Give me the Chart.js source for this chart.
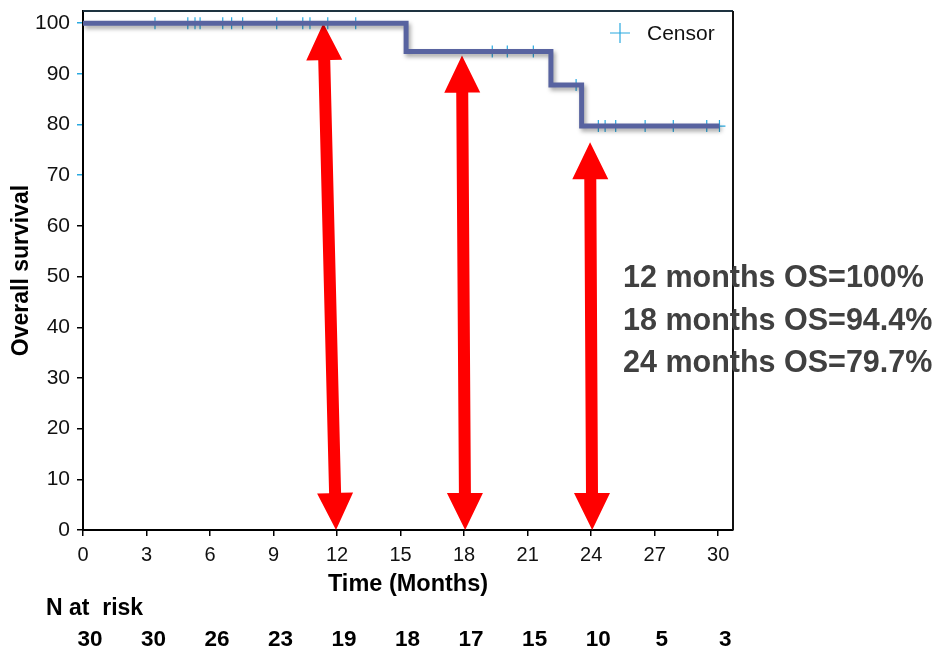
<!DOCTYPE html>
<html>
<head>
<meta charset="utf-8">
<script src="https://cdn.jsdelivr.net/npm/chart.js@4.4.1/dist/chart.umd.min.js"></script>
<style>
  html, body { margin: 0; padding: 0; background: #ffffff; }
  #wrap { width: 938px; height: 649px; position: relative; }
</style>
</head>
<body>
<div id="wrap"><canvas id="km"></canvas></div>
<script>
// Kaplan-Meier overall survival: step times (months) and survival (%)
const stepMonths = [0, 15.26, 22.1, 23.55, 30.06];
const stepSurvival = [100, 94.4, 87.8, 79.7, 79.7];

// Censored observations
const censorMonths = [3.40, 4.95, 5.29, 5.53, 6.60, 7.02, 7.54, 9.15, 10.38, 10.72, 11.56, 12.88,
                      19.33, 20.04, 21.27, 23.29,
                      24.34, 24.66, 25.16, 26.55, 27.88, 29.46, 30.06];
const censorSurvival = [100, 100, 100, 100, 100, 100, 100, 100, 100, 100, 100, 100,
                        94.4, 94.4, 94.4, 87.8,
                        79.7, 79.7, 79.7, 79.7, 79.7, 79.7, 79.7];

// Axis ticks
const xTicks = [0, 3, 6, 9, 12, 15, 18, 21, 24, 27, 30];
const yTicks = [0, 10, 20, 30, 40, 50, 60, 70, 80, 90, 100];

// Number at risk under each x tick
const atRisk = [30, 30, 26, 23, 19, 18, 17, 15, 10, 5, 3];

// Landmark estimates and their double arrows
const landmarkLabels = ['12 months OS=100%', '18 months OS=94.4%', '24 months OS=79.7%'];
const arrowTopMonths = [11.35, 17.9, 23.95];
const arrowTopValues = [100, 93.6, 76.5];
const arrowBottomMonths = [11.95, 18.05, 24.05];
const arrowBottomValues = [0, 0, 0];

const FONT = '"Liberation Sans", Arial, sans-serif';
const LINE_COLOR = '#5863a0';
const CENSOR_COLOR = '#2aa9e0';

const kmData = stepMonths.map((m, i) => ({ x: m, y: stepSurvival[i] }));
const censorData = censorMonths.map((m, i) => ({ x: m, y: censorSurvival[i] }));
const censorStyles = censorMonths.map((m, i) => i === censorMonths.length - 1 ? 'cross' : 'line');

function drawDoubleArrow(ctx, x1, y1, x2, y2) {
  const H = 37, W = 18, S = 6;
  const dx = x2 - x1, dy = y2 - y1;
  const len = Math.hypot(dx, dy);
  const ux = dx / len, uy = dy / len;
  const nx = -uy, ny = ux;
  const p = (bx, by, a, b) => [bx + ux * a + nx * b, by + uy * a + ny * b];
  const pts = [
    [x1, y1],
    p(x1, y1, H, W), p(x1, y1, H, S),
    p(x2, y2, -H, S), p(x2, y2, -H, W),
    [x2, y2],
    p(x2, y2, -H, -W), p(x2, y2, -H, -S),
    p(x1, y1, H, -S), p(x1, y1, H, -W)
  ];
  ctx.beginPath();
  ctx.moveTo(pts[0][0], pts[0][1]);
  for (let i = 1; i < pts.length; i++) ctx.lineTo(pts[i][0], pts[i][1]);
  ctx.closePath();
  ctx.fillStyle = '#ff0000';
  ctx.fill();
}

const decorations = {
  id: 'decorations',
  beforeDatasetsDraw(chart) {
    const { ctx, chartArea: a, scales: { x, y } } = chart;
    ctx.save();
    // frame on top and right
    ctx.lineWidth = 2;
    ctx.strokeStyle = '#1e3340';
    ctx.beginPath();
    ctx.moveTo(a.left, a.top);
    ctx.lineTo(a.right, a.top);
    ctx.stroke();
    ctx.strokeStyle = '#111111';
    ctx.beginPath();
    ctx.moveTo(a.right, a.top);
    ctx.lineTo(a.right, a.bottom);
    ctx.stroke();
    // landmark arrows
    for (let i = 0; i < arrowTopMonths.length; i++) {
      drawDoubleArrow(ctx,
        x.getPixelForValue(arrowTopMonths[i]), y.getPixelForValue(arrowTopValues[i]),
        x.getPixelForValue(arrowBottomMonths[i]), y.getPixelForValue(arrowBottomValues[i]));
    }
    ctx.restore();
  },
  beforeDatasetDraw(chart, args) {
    if (args.index === 1) {
      const ctx = chart.ctx;
      ctx.save();
      ctx.shadowColor = 'rgba(0,0,0,0.35)';
      ctx.shadowBlur = 4;
      ctx.shadowOffsetX = 2;
      ctx.shadowOffsetY = 3;
    }
  },
  afterDatasetDraw(chart, args) {
    if (args.index === 1) chart.ctx.restore();
  },
  afterDraw(chart) {
    const { ctx, chartArea: a, scales: { x } } = chart;
    ctx.save();
    // legend
    const lx = 620, ly = 33;
    ctx.strokeStyle = CENSOR_COLOR;
    ctx.lineWidth = 1.2;
    ctx.beginPath();
    ctx.moveTo(lx - 10, ly); ctx.lineTo(lx + 10, ly);
    ctx.moveTo(lx, ly - 10); ctx.lineTo(lx, ly + 10);
    ctx.stroke();
    ctx.fillStyle = '#111111';
    ctx.font = '21px ' + FONT;
    ctx.textAlign = 'left';
    ctx.textBaseline = 'middle';
    ctx.fillText('Censor', 647, ly + 1);

    // landmark estimates
    ctx.fillStyle = '#404040';
    ctx.font = 'bold 30.5px ' + FONT;
    ctx.textBaseline = 'alphabetic';
    landmarkLabels.forEach((t, i) => ctx.fillText(t, 623, 287 + i * 42.5));

    // number at risk
    ctx.fillStyle = '#000000';
    ctx.font = 'bold 23px ' + FONT;
    ctx.textBaseline = 'middle';
    ctx.fillText('N at  risk', 46, 609);
    ctx.textAlign = 'center';
    ctx.font = 'bold 22.5px ' + FONT;
    xTicks.forEach((t, i) => ctx.fillText(String(atRisk[i]), x.getPixelForValue(t) + 7, 640));
    ctx.restore();
  }
};

new Chart(document.getElementById('km'), {
  type: 'line',
  data: {
    datasets: [
      {
        label: 'Censor',
        data: censorData,
        showLine: false,
        pointStyle: censorStyles,
        pointRotation: 90,
        radius: 6,
        borderColor: CENSOR_COLOR,
        borderWidth: 1.2,
        order: 2
      },
      {
        label: 'Overall survival',
        data: kmData,
        stepped: 'before',
        borderColor: LINE_COLOR,
        borderWidth: 5,
        pointRadius: 0,
        fill: false,
        order: 1
      }
    ]
  },
  options: {
    responsive: true,
    maintainAspectRatio: false,
    animation: false,
    layout: { padding: { top: 11, right: 205, bottom: 0, left: 0 } },
    plugins: { legend: { display: false }, tooltip: { enabled: false } },
    scales: {
      x: {
        type: 'linear',
        min: 0,
        max: 30.7,
        afterBuildTicks: s => { s.ticks = xTicks.map(v => ({ value: v })); },
        afterFit: s => { s.height = 119; s.paddingLeft = 0; s.paddingRight = 0; },
        grid: { drawOnChartArea: false, drawTicks: true, tickLength: 6, color: '#000000', lineWidth: 1.5 },
        border: { display: true, color: '#000000', width: 2 },
        ticks: { color: '#111111', font: { family: FONT, size: 20 }, padding: 7, maxRotation: 0 },
        title: {
          display: true,
          text: 'Time (Months)',
          color: '#000000',
          font: { family: FONT, size: 23.5, weight: 'bold' },
          padding: { top: 0, bottom: 50 }
        }
      },
      y: {
        min: 0,
        max: 102.4,
        afterBuildTicks: s => { s.ticks = yTicks.map(v => ({ value: v })); },
        afterFit: s => { s.width = 83; s.paddingTop = 0; s.paddingBottom = 0; },
        grid: {
          drawOnChartArea: false, drawTicks: true, tickLength: 6, lineWidth: 1.5,
          color: '#000000',
          tickColor: c => (c.tick && c.tick.value >= 70) ? CENSOR_COLOR : '#000000'
        },
        border: { display: true, color: '#000000', width: 2 },
        ticks: { color: '#111111', font: { family: FONT, size: 21 }, padding: 7 },
        title: {
          display: true,
          text: 'Overall survival',
          color: '#000000',
          font: { family: FONT, size: 23, weight: 'bold' },
          padding: { top: 8, bottom: 0 }
        }
      }
    }
  },
  plugins: [decorations]
});
</script>
</body>
</html>
